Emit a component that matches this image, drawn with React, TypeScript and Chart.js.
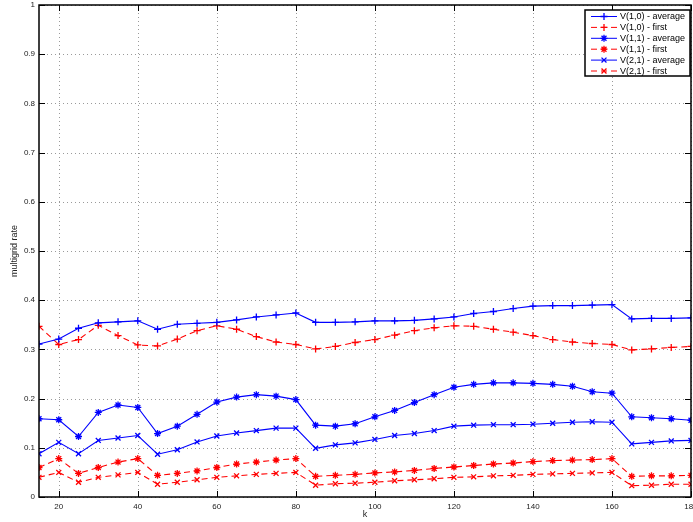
import React, { useEffect, useRef } from "react";
import { Chart, registerables } from "chart.js";

Chart.register(...registerables);

const kValues = [15, 20, 25, 30, 35, 40, 45, 50, 55, 60, 65, 70, 75, 80, 85, 90, 95, 100, 105, 110, 115, 120, 125, 130, 135, 140, 145, 150, 155, 160, 165, 170, 175, 180];

const v10Average = [0.311, 0.321, 0.343, 0.354, 0.356, 0.358, 0.341, 0.351, 0.353, 0.355, 0.360, 0.366, 0.370, 0.374, 0.355, 0.355, 0.356, 0.358, 0.358, 0.359, 0.362, 0.366, 0.373, 0.377, 0.383, 0.388, 0.389, 0.389, 0.390, 0.391, 0.362, 0.363, 0.363, 0.364];
const v10First = [0.347, 0.310, 0.320, 0.349, 0.328, 0.309, 0.307, 0.321, 0.338, 0.348, 0.341, 0.326, 0.315, 0.310, 0.301, 0.306, 0.314, 0.320, 0.329, 0.338, 0.344, 0.348, 0.347, 0.341, 0.335, 0.328, 0.320, 0.315, 0.312, 0.310, 0.299, 0.301, 0.304, 0.306];
const v11Average = [0.159, 0.157, 0.123, 0.172, 0.187, 0.182, 0.129, 0.144, 0.168, 0.193, 0.203, 0.208, 0.205, 0.198, 0.146, 0.144, 0.149, 0.163, 0.176, 0.192, 0.208, 0.223, 0.229, 0.232, 0.232, 0.231, 0.229, 0.225, 0.214, 0.211, 0.163, 0.161, 0.159, 0.156];
const v11First = [0.060, 0.078, 0.048, 0.060, 0.071, 0.078, 0.044, 0.048, 0.053, 0.060, 0.067, 0.071, 0.075, 0.078, 0.042, 0.044, 0.046, 0.049, 0.051, 0.054, 0.058, 0.061, 0.064, 0.067, 0.069, 0.072, 0.074, 0.075, 0.076, 0.078, 0.042, 0.043, 0.043, 0.044];
const v21Average = [0.088, 0.111, 0.088, 0.115, 0.120, 0.125, 0.087, 0.096, 0.112, 0.124, 0.130, 0.135, 0.140, 0.140, 0.099, 0.106, 0.110, 0.117, 0.125, 0.129, 0.135, 0.144, 0.146, 0.147, 0.147, 0.148, 0.150, 0.152, 0.153, 0.152, 0.108, 0.111, 0.114, 0.115];
const v21First = [0.040, 0.050, 0.030, 0.040, 0.045, 0.050, 0.026, 0.030, 0.035, 0.040, 0.043, 0.046, 0.048, 0.050, 0.024, 0.027, 0.028, 0.030, 0.033, 0.035, 0.037, 0.040, 0.041, 0.043, 0.044, 0.046, 0.047, 0.048, 0.049, 0.050, 0.023, 0.024, 0.026, 0.026];

const seriesLabels = ["V(1,0) - average", "V(1,0) - first", "V(1,1) - average", "V(1,1) - first", "V(2,1) - average", "V(2,1) - first"];

const xTickValues = [20, 40, 60, 80, 100, 120, 140, 160, 180];
const yTickValues = [0, 0.1, 0.2, 0.3, 0.4, 0.5, 0.6, 0.7, 0.8, 0.9, 1];

const BLUE = "#0000ff";
const RED = "#ff0000";
const FONT = "'Liberation Sans', Arial, Helvetica, sans-serif";

function drawMarker(ctx: CanvasRenderingContext2D, style: string, x: number, y: number, r: number) {
  ctx.beginPath();
  if (style === "cross" || style === "star") {
    ctx.moveTo(x - r, y);
    ctx.lineTo(x + r, y);
    ctx.moveTo(x, y - r);
    ctx.lineTo(x, y + r);
  }
  if (style === "crossRot" || style === "star") {
    const d = r * 0.7071;
    ctx.moveTo(x - d, y - d);
    ctx.lineTo(x + d, y + d);
    ctx.moveTo(x - d, y + d);
    ctx.lineTo(x + d, y - d);
  }
  ctx.stroke();
}

const framePlugin = {
  id: "matlabFrame",
  beforeDatasetsDraw(chart: any) {
    const { ctx, chartArea: a, scales } = chart;
    ctx.save();
    ctx.strokeStyle = "#9a9a9a";
    ctx.lineWidth = 1;
    ctx.setLineDash([1, 3]);
    xTickValues.forEach((v) => {
      const px = Math.round(scales.x.getPixelForValue(v)) + 0.5;
      ctx.beginPath();
      ctx.moveTo(px, a.top);
      ctx.lineTo(px, a.bottom);
      ctx.stroke();
    });
    yTickValues.forEach((v) => {
      const py = Math.round(scales.y.getPixelForValue(v)) + 0.5;
      ctx.beginPath();
      ctx.moveTo(a.left, py);
      ctx.lineTo(a.right, py);
      ctx.stroke();
    });
    ctx.restore();
  },
  afterDatasetsDraw(chart: any) {
    const { ctx, chartArea: a, scales } = chart;
    ctx.save();
    ctx.strokeStyle = "#000";
    ctx.lineWidth = 1.5;
    ctx.setLineDash([]);
    ctx.strokeRect(a.left, a.top, a.right - a.left, a.bottom - a.top);
    const tl = 6;
    ctx.lineWidth = 1;
    xTickValues.forEach((v) => {
      const px = Math.round(scales.x.getPixelForValue(v)) + 0.5;
      ctx.beginPath();
      ctx.moveTo(px, a.bottom);
      ctx.lineTo(px, a.bottom - tl);
      ctx.moveTo(px, a.top);
      ctx.lineTo(px, a.top + tl);
      ctx.stroke();
    });
    yTickValues.forEach((v) => {
      const py = Math.round(scales.y.getPixelForValue(v)) + 0.5;
      ctx.beginPath();
      ctx.moveTo(a.left, py);
      ctx.lineTo(a.left + tl, py);
      ctx.moveTo(a.right, py);
      ctx.lineTo(a.right - tl, py);
      ctx.stroke();
    });
    ctx.restore();
  },
  afterDraw(chart: any) {
    const { ctx } = chart;
    const left = 585;
    const top = 10;
    const right = 690;
    const bottom = 76;
    ctx.save();
    ctx.fillStyle = "#fff";
    ctx.fillRect(left, top, right - left, bottom - top);
    ctx.strokeStyle = "#000";
    ctx.lineWidth = 1.5;
    ctx.strokeRect(left, top, right - left, bottom - top);
    ctx.font = `9px ${FONT}`;
    ctx.textBaseline = "middle";
    ctx.textAlign = "left";
    chart.data.datasets.forEach((ds: any, i: number) => {
      const y = top + 6.5 + i * 10.9;
      ctx.strokeStyle = ds.borderColor;
      ctx.lineWidth = 1;
      ctx.setLineDash(ds.borderDash || []);
      ctx.beginPath();
      ctx.moveTo(591, y);
      ctx.lineTo(617, y);
      ctx.stroke();
      ctx.setLineDash([]);
      ctx.lineWidth = 1.3;
      drawMarker(ctx, ds.pointStyle, 604, y, 3.5);
      ctx.fillStyle = "#000";
      ctx.fillText(ds.label, 620, y + 0.5);
    });
    ctx.restore();
  },
};

function makeDataset(label: string, values: number[], color: string, dashed: boolean, style: string, radius: number) {
  return {
    label,
    data: kValues.map((k, i) => ({ x: k, y: values[i] })),
    borderColor: color,
    backgroundColor: color,
    borderWidth: 1.1,
    borderDash: dashed ? [6, 4] : [],
    pointStyle: style,
    pointRadius: radius,
    pointBorderWidth: 1.3,
    pointBorderColor: color,
    pointBackgroundColor: color,
    fill: false,
    tension: 0,
  };
}

export default function App() {
  const ref = useRef<HTMLCanvasElement | null>(null);
  useEffect(() => {
    document.body.style.margin = "0";
    const canvas = ref.current;
    if (!canvas) return;
    const chart = new Chart(canvas, {
      type: "line",
      data: {
        datasets: [
          makeDataset(seriesLabels[0], v10Average, BLUE, false, "cross", 3.5),
          makeDataset(seriesLabels[1], v10First, RED, true, "cross", 3.5),
          makeDataset(seriesLabels[2], v11Average, BLUE, false, "star", 3.5),
          makeDataset(seriesLabels[3], v11First, RED, true, "star", 3.5),
          makeDataset(seriesLabels[4], v21Average, BLUE, false, "crossRot", 3.5),
          makeDataset(seriesLabels[5], v21First, RED, true, "crossRot", 3.5),
        ] as any,
      },
      options: {
        animation: false,
        responsive: false,
        layout: { autoPadding: false, padding: { top: 5, right: 2, left: 0, bottom: 0 } },
        plugins: { legend: { display: false }, tooltip: { enabled: false } },
        scales: {
          x: {
            type: "linear",
            min: 15,
            max: 180,
            afterBuildTicks: (s: any) => {
              s.ticks = xTickValues.map((v) => ({ value: v }));
            },
            afterFit: (s: any) => {
              s.height = 25;
              s.paddingLeft = 0;
              s.paddingRight = 0;
            },
            grid: { display: false, drawTicks: false },
            border: { display: false },
            ticks: {
              padding: 5,
              color: "#222",
              font: { family: FONT, size: 8 },
              maxRotation: 0,
              autoSkip: false,
              callback: (v: any) => String(v),
            },
            title: {
              display: true,
              text: "k",
              color: "#222",
              font: { family: FONT, size: 9 },
              padding: { top: 0, bottom: 2 },
            },
          },
          y: {
            type: "linear",
            min: 0,
            max: 1,
            afterBuildTicks: (s: any) => {
              s.ticks = yTickValues.map((v) => ({ value: v }));
            },
            afterFit: (s: any) => {
              s.width = 39;
              s.paddingTop = 0;
              s.paddingBottom = 0;
            },
            grid: { display: false, drawTicks: false },
            border: { display: false },
            ticks: {
              padding: 4,
              color: "#222",
              font: { family: FONT, size: 8 },
              autoSkip: false,
              callback: (v: any) => String(Math.round(Number(v) * 10) / 10),
            },
            title: {
              display: true,
              text: "multigrid rate",
              color: "#222",
              font: { family: FONT, size: 9 },
              padding: { top: 9, bottom: 0 },
            },
          },
        },
      },
      plugins: [framePlugin],
    });
    return () => chart.destroy();
  }, []);
  return <canvas ref={ref} width={693} height={522} style={{ display: "block" }} />;
}
